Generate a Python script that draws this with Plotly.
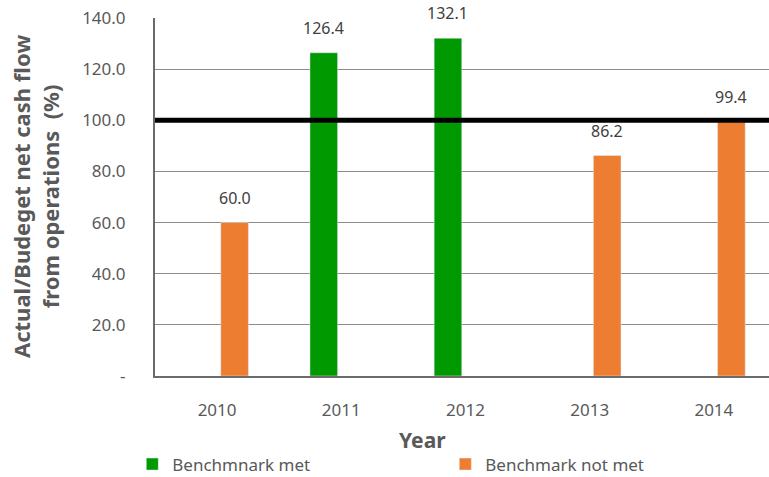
import plotly.graph_objects as go

years = ["2010", "2011", "2012", "2013", "2014"]
met = [None, 126.4, 132.1, None, None]
not_met = [60.0, None, None, 86.2, 99.4]
benchmark = 100
ytick_vals = [0, 20, 40, 60, 80, 100, 120, 140]
ytick_text = ["-", "20.0", "40.0", "60.0", "80.0", "100.0", "120.0", "140.0"]

FONT = "Noto Sans"
GREY = "#595959"
GREEN = "#009900"
ORANGE = "#ED7D31"

fig = go.Figure()
fig.add_trace(go.Bar(x=years, y=met, name="Benchmnark met", marker_color=GREEN))
fig.add_trace(go.Bar(x=years, y=not_met, name="Benchmark not met", marker_color=ORANGE))

# benchmark line
fig.add_shape(type="line", xref="paper", x0=0, x1=1, yref="y", y0=benchmark, y1=benchmark,
              line=dict(color="black", width=5), layer="above")

# data labels
for series, sh in ((met, -17.5), (not_met, 17.5)):
    for i, v in enumerate(series):
        if v is None:
            continue
        fig.add_annotation(x=i, y=v, text=f"{v:.1f}", showarrow=False, xshift=sh, yshift=25,
                           font=dict(family=FONT, size=16, color="#404040"))

# axis titles
fig.add_annotation(xref="paper", yref="paper", x=(422 - 155) / 614, y=-(440 - 376) / 358,
                   text="<b>Year</b>", showarrow=False, xanchor="center", yanchor="middle",
                   font=dict(family=FONT, size=21, color=GREY))
fig.add_annotation(xref="paper", yref="paper", x=-(155 - 35) / 614, y=0.5,
                   text="<b>Actual/Budeget net cash flow<br>from operations  (%)</b>", showarrow=False,
                   textangle=-90, xanchor="center", yanchor="middle",
                   font=dict(family=FONT, size=22, color=GREY))

fig.update_layout(
    width=769, height=477,
    margin=dict(l=155, r=0, t=18, b=101, autoexpand=False),
    paper_bgcolor="white", plot_bgcolor="white",
    barmode="group", bargap=0.436, bargroupgap=0.211,
    font=dict(family=FONT, color=GREY),
    showlegend=True,
    legend=dict(orientation="h", x=-0.037, xanchor="left", y=-0.197, yanchor="top",
                font=dict(family=FONT, size=17, color=GREY),
                entrywidth=268, entrywidthmode="pixels", itemclick=False),
    xaxis=dict(type="category", range=[-0.5, 4.444], showgrid=False,
               showline=True, linecolor="#6b6b6b", linewidth=2,
               ticks="", tickfont=dict(size=17, color=GREY), ticklabelstandoff=18),
    yaxis=dict(range=[0, 140], tickvals=ytick_vals, ticktext=ytick_text,
               showgrid=True, gridcolor="#8c8c8c", gridwidth=1.3, zeroline=False,
               showline=True, linecolor="#6b6b6b", linewidth=2,
               ticks="", tickfont=dict(size=17, color=GREY), ticklabelstandoff=24),
)

fig.write_html("out.html")
